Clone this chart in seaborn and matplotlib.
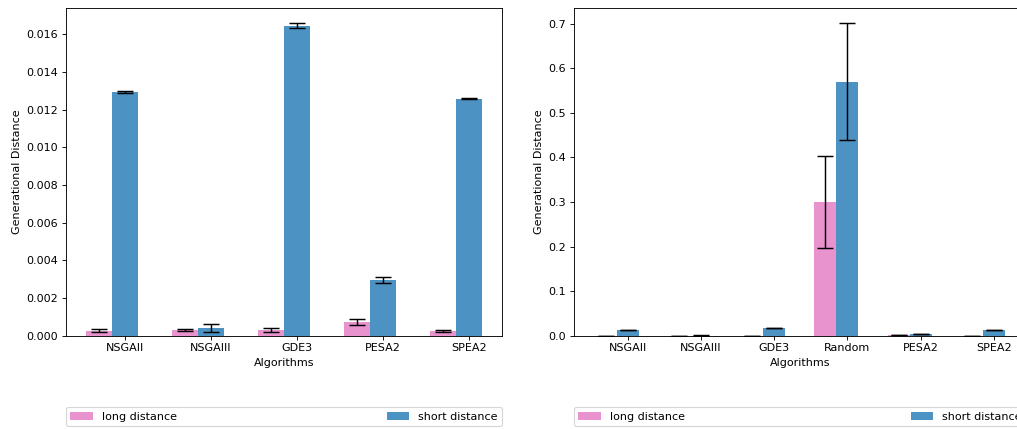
import numpy as np
import pandas as pd
import matplotlib
matplotlib.use("Agg")
import matplotlib.pyplot as plt
import seaborn as sns

# Generational distance per algorithm (mean and error) for the two scenarios
algorithms = ["NSGAII", "NSGAIII", "GDE3", "PESA2", "SPEA2"]
long_mean = [0.00025, 0.00030, 0.00030, 0.00073, 0.00025]
long_err = [0.00008, 0.00003, 0.00010, 0.00018, 0.00004]
short_mean = [0.01295, 0.00039, 0.01646, 0.00296, 0.01258]
short_err = [0.00005, 0.00022, 0.00013, 0.00017, 0.00003]

# Second panel adds the random baseline
algorithms_all = ["NSGAII", "NSGAIII", "GDE3", "Random", "PESA2", "SPEA2"]
long_mean_all = [0.00025, 0.00030, 0.00030, 0.300, 0.00073, 0.00025]
long_err_all = [0.00008, 0.00003, 0.00010, 0.103, 0.00018, 0.00004]
short_mean_all = [0.01295, 0.00039, 0.01646, 0.570, 0.00296, 0.01258]
short_err_all = [0.00005, 0.00022, 0.00013, 0.131, 0.00017, 0.00003]

series_names = ["long distance", "short distance"]
colors = ["tab:pink", "tab:blue"]

DPI = 80
fig = plt.figure(figsize=(1017 / DPI, 429 / DPI), dpi=DPI)
ax1 = fig.add_axes([66 / 1017, 0.2175, 436 / 1017, 0.765])
ax2 = fig.add_axes([574 / 1017, 0.2175, 451.6 / 1017, 0.765])


def draw_panel(ax, cats, lm, le, sm, se):
    df = pd.DataFrame({
        "algorithm": cats * 2,
        "gd": list(lm) + list(sm),
        "err": list(le) + list(se),
        "distance": [series_names[0]] * len(cats) + [series_names[1]] * len(cats),
    })
    sns.barplot(data=df, x="algorithm", y="gd", hue="distance",
                hue_order=series_names, palette=colors, width=0.6,
                saturation=1, alpha=0.8, errorbar=None, ax=ax)
    # error bars centred on each drawn bar
    for container, name in zip(ax.containers, series_names):
        sub = df[df["distance"] == name]
        xs = [p.get_x() + p.get_width() / 2 for p in container.patches]
        ax.errorbar(xs, sub["gd"].values, yerr=sub["err"].values, fmt="none",
                    ecolor="black", capsize=7, elinewidth=1.3, capthick=1.3)
    n = len(cats)
    bw = ax.containers[1].patches[0].get_width()
    ticks = [p.get_x() + p.get_width() / 2 for p in ax.containers[1].patches]
    ax.set_xticks(ticks)
    ax.set_xticklabels(cats)
    span = (n - 1) + 2 * bw
    ax.set_xlim(-bw - 0.05 * span, n - 1 + bw + 0.05 * span)
    top = max(df["gd"] + df["err"])
    ax.set_ylim(0, top * 1.05)
    ax.set_xlabel("Algorithms")
    ax.set_ylabel("Generational Distance")
    sns.move_legend(ax, "upper left", bbox_to_anchor=(0, -0.218, 1, 0),
                    mode="expand", ncol=2, title=None, borderaxespad=0)


draw_panel(ax1, algorithms, long_mean, long_err, short_mean, short_err)
draw_panel(ax2, algorithms_all, long_mean_all, long_err_all,
           short_mean_all, short_err_all)

fig.savefig("out.png", dpi=DPI)
